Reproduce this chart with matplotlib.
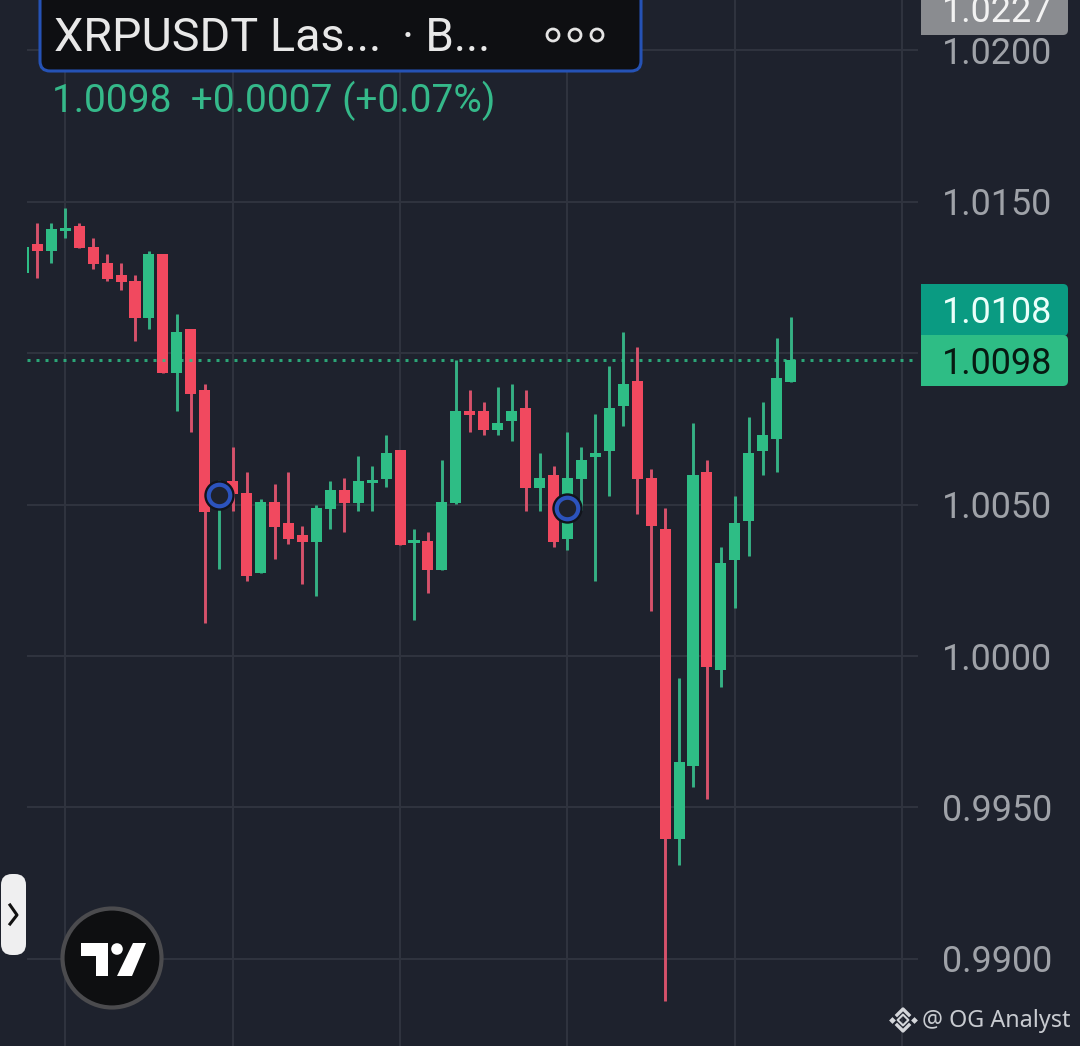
import matplotlib
matplotlib.use("Agg")
import matplotlib.pyplot as plt
from matplotlib.patches import Circle, FancyBboxPatch, Polygon, Rectangle

BG = "#1e222d"
GRID = "#2f333e"
UP = "#2ebd85"
DOWN = "#f1495f"
UP_WICK = "#35b184"
DOWN_WICK = "#d6526b"
LABEL = "#9fa2a8"

opens = [1.01266, 1.01361, 1.01338, 1.01405, 1.01420, 1.01351, 1.01297, 1.01258,
         1.01238, 1.01117, 1.01328, 1.00935, 1.01079, 1.00878, 1.00515, 1.00578,
         1.00537, 1.00275, 1.00509, 1.00439, 1.00400, 1.00376, 1.00486, 1.00548,
         1.00506, 1.00570, 1.00586, 1.00680, 1.00374, 1.00380, 1.00285, 1.00506,
         1.00808, 1.00809, 1.00746, 1.00777, 1.00819, 1.00556, 1.00598, 1.00386,
         1.00585, 1.00658, 1.00677, 1.00826, 1.00908, 1.00588, 1.00420, 0.99397,
         0.99637, 1.00608, 0.99955, 1.00317, 1.00447, 1.00677, 1.00718, 1.00906]
closes = [1.01350, 1.01338, 1.01409, 1.01412, 1.01348, 1.01295, 1.01245, 1.01235,
          1.01117, 1.01328, 1.00935, 1.01069, 1.00865, 1.00477, 1.00558, 1.00535,
          1.00264, 1.00509, 1.00427, 1.00386, 1.00376, 1.00489, 1.00548, 1.00506,
          1.00578, 1.00581, 1.00670, 1.00367, 1.00383, 1.00285, 1.00509, 1.00809,
          1.00797, 1.00746, 1.00769, 1.00809, 1.00556, 1.00588, 1.00377, 1.00588,
          1.00647, 1.00669, 1.00819, 1.00898, 1.00585, 1.00428, 0.99397, 0.99650,
          1.00597, 0.99964, 1.00308, 1.00440, 1.00670, 1.00730, 1.00917, 1.00978]
highs = [1.01350, 1.01429, 1.01429, 1.01479, 1.01429, 1.01379, 1.01328, 1.01297,
         1.01257, 1.01339, 1.01328, 1.01128, 1.01079, 1.00897, 1.00581, 1.00691,
         1.00607, 1.00518, 1.00568, 1.00607, 1.00429, 1.00498, 1.00578, 1.00588,
         1.00661, 1.00627, 1.00730, 1.00680, 1.00419, 1.00409, 1.00647, 1.00978,
         1.00878, 1.00839, 1.00888, 1.00898, 1.00878, 1.00670, 1.00627, 1.00740,
         1.00690, 1.00799, 1.00958, 1.01070, 1.01020, 1.00616, 1.00489, 0.99928,
         1.00770, 1.00646, 1.00360, 1.00528, 1.00789, 1.00839, 1.01050, 1.01120]
lows = [1.01266, 1.01249, 1.01299, 1.01379, 1.01348, 1.01278, 1.01239, 1.01209,
        1.01040, 1.01080, 1.00935, 1.00810, 1.00741, 1.00110, 1.00287, 1.00480,
        1.00249, 1.00275, 1.00320, 1.00371, 1.00239, 1.00198, 1.00419, 1.00410,
        1.00480, 1.00480, 1.00559, 1.00367, 1.00120, 1.00208, 1.00285, 1.00501,
        1.00741, 1.00731, 1.00731, 1.00711, 1.00479, 1.00479, 1.00361, 1.00350,
        1.00482, 1.00248, 1.00529, 1.00760, 1.00470, 1.00150, 0.98859, 0.99310,
        0.99567, 0.99528, 0.99899, 1.00160, 1.00330, 1.00598, 1.00608, 1.00906]

y_ticks = [1.0200, 1.0150, 1.0100, 1.0050, 1.0000, 0.9950, 0.9900]
y_labels = {1.0200: "1.0200", 1.0150: "1.0150", 1.0050: "1.0050", 1.0000: "1.0000",
            0.9950: "0.9950", 0.9900: "0.9900"}
x_grid = [3, 15, 27, 39, 51, 63]
last_price = 1.00978
marker_bars = [14, 39]
marker_prices = [1.00532, 1.00489]

title_text = "XRPUSDT Las..."
title_text2 = "· B..."
change_text = "1.0098  +0.0007 (+0.07%)"

plt.rcParams["font.family"] = ["Roboto", "DejaVu Sans"]

fig = plt.figure(figsize=(10.8, 10.46), dpi=100, facecolor=BG)
ax = fig.add_axes([0, 0, 1, 1], facecolor=BG)
ax.axis("off")

# bar i sits at 23.4 + 13.95*i px, 1.0 at y=656 px, 151.4 px per 0.005
ax.set_xlim(-23.4 / 13.95, (1080 - 23.4) / 13.95)
ax.set_ylim(1 - 390 * 0.005 / 151.4, 1 + 656 * 0.005 / 151.4)
x_left = (27 - 23.4) / 13.95
x_right = (918 - 23.4) / 13.95

ax.hlines(y_ticks, x_left, x_right, color=GRID, lw=1.5, zorder=1)
ax.vlines(x_grid, *ax.get_ylim(), color=GRID, lw=1.5, zorder=1)

clip = Rectangle((x_left, 0.9), 100, 0.2, transform=ax.transData)
for i in range(len(opens)):
    up = closes[i] >= opens[i]
    wick = ax.vlines(i, lows[i], highs[i], color=UP_WICK if up else DOWN_WICK, lw=2.1, zorder=2)
    low_body = min(opens[i], closes[i])
    height = abs(closes[i] - opens[i])
    body = ax.bar(i, height, bottom=low_body, width=0.79, color=UP if up else DOWN, lw=0, zorder=3)
    wick.set_clip_path(clip)
    body[0].set_clip_path(clip)

ax.plot([x_left, x_right], [last_price, last_price], color=UP, lw=2.16, alpha=0.85,
        linestyle=(0, (1.0, 2.0)), dash_capstyle="butt", zorder=4)

ax.scatter(marker_bars, marker_prices, s=480, color="#11141b", lw=0, zorder=5)
ax.scatter(marker_bars, marker_prices, s=240, facecolor=BG, edgecolor="#2c53bc", lw=3, zorder=6)

for value, text in y_labels.items():
    ax.annotate(text, (1052 / 13.95 - 23.4 / 13.95, value), xytext=(0, -2.6), textcoords="offset points",
                ha="right", va="center", fontsize=25.9, color=LABEL, zorder=7)

# interface parts in pixel coordinates
ui = fig.add_axes([0, 0, 1, 1], facecolor="none")
ui.axis("off")
ui.set_xlim(0, 1080)
ui.set_ylim(1046, 0)

def tag(y0, y1, color):
    ui.add_patch(FancyBboxPatch((926, y0 + 5), 137, y1 - y0 - 10, boxstyle="round,pad=5,rounding_size=5",
                                fc=color, ec="none", zorder=2))
    ui.add_patch(Rectangle((921, y0), 30, y1 - y0, fc=color, ec="none", zorder=2))

tag(-20, 35, "#8a8c90")
tag(284, 336, "#0a9b82")
tag(335, 386, UP)
ui.text(1052, 12, "1.0227", ha="right", va="center", fontsize=25.9, color="#f2f2f2", zorder=3)
ui.text(1052, 313, "1.0108", ha="right", va="center", fontsize=25.9, color="#eafffa", zorder=3)
ui.text(1052, 364, "1.0098", ha="right", va="center", fontsize=25.9, color="#071a12", zorder=3)

ui.add_patch(FancyBboxPatch((50, -20), 581, 81, boxstyle="round,pad=10,rounding_size=10",
                            fc="#0e0f12", ec="#2552b5", lw=2.2, zorder=2))
ui.text(54, 38, title_text, ha="left", va="center", fontsize=33.7, color="#e8e8e8", zorder=3)
ui.text(402, 38, title_text2, ha="left", va="center", fontsize=33, color="#e8e8e8", zorder=3)
for cx in [553, 575, 597]:
    ui.add_patch(Circle((cx, 35), 6, fc="none", ec="#e4e4e4", lw=2, zorder=3))
ui.text(52, 101, change_text, ha="left", va="center", fontsize=28, color="#35b98a", zorder=3)

ui.add_patch(FancyBboxPatch((12, 885), 3, 59, boxstyle="round,pad=11,rounding_size=11",
                            fc="#efeff0", ec="none", zorder=2))
ui.plot([10, 17, 10], [905, 915, 924], color="#111111", lw=2.2, zorder=3)

ui.add_patch(Circle((112, 958), 49.5, fc="#0e0f11", ec="#4b4b4e", lw=3, zorder=2))
ui.add_patch(Polygon([(81, 943), (108, 943), (108, 976), (96, 976), (96, 956), (81, 956)],
                     fc="white", ec="none", zorder=3))
ui.add_patch(Circle((117, 949), 5.8, fc="white", ec="none", zorder=3))
ui.add_patch(Polygon([(133, 943), (146, 943), (132, 976), (117, 976)], fc="white", ec="none", zorder=3))

# exchange mark next to the watermark
mark = "#d4d6da"
for cx, cy in [(892, 1020), (914, 1020)]:
    ui.scatter(cx, cy, marker="D", s=12, color=mark, lw=0, zorder=3)
ui.scatter(903, 1020, marker="D", s=30, facecolor="none", edgecolor=mark, lw=1.5, zorder=3)
ui.plot([897, 903, 909], [1015, 1009, 1015], color=mark, lw=2.4, zorder=3)
ui.plot([897, 903, 909], [1025, 1031, 1025], color=mark, lw=2.4, zorder=3)
ui.text(1071, 1021, "@ OG Analyst", ha="right", va="center", fontsize=16.8,
        family=["Noto Sans", "DejaVu Sans"], color="#c8cbd0", zorder=3)

fig.savefig("out.png", dpi=100, facecolor=BG)
